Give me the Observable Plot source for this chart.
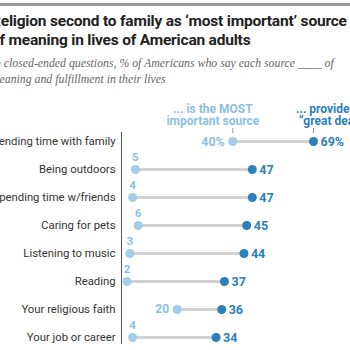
<!DOCTYPE html>
<html>
<head>
<meta charset="utf-8">
<script src="https://cdn.jsdelivr.net/npm/d3@7"></script>
<script src="https://cdn.jsdelivr.net/npm/@observablehq/plot@0.6"></script>
<style>
  html, body { margin: 0; padding: 0; width: 350px; height: 350px; overflow: hidden; background: #fff; }
  #bar { position: absolute; left: 0; top: 3px; width: 350px; height: 3px; background: #9a9a9a; }
  #title { position: absolute; left: -9px; top: 12px; white-space: nowrap; font-family: Roboto, sans-serif; font-weight: bold; font-size: 15.5px; line-height: 19px; color: #222; letter-spacing: -0.2px; }
  #subtitle { position: absolute; left: -9px; top: 56px; white-space: nowrap; font-family: "Liberation Serif", serif; font-style: italic; font-size: 11.8px; line-height: 15.5px; color: #666; }
  #chart { position: absolute; left: -10px; top: 92px; width: 380px; height: 258px; }
  #chart svg { max-width: none !important; }
</style>
</head>
<body>
<div id="bar"></div>
<div id="title">Religion second to family as ‘most important’ source<br>of meaning in lives of American adults</div>
<div id="subtitle">In closed-ended questions, % of Americans who say each source ____ of<br>meaning and fulfillment in their lives</div>
<div id="chart"></div>
<script>
const categories = ["Spending time with family", "Being outdoors", "Spending time w/friends", "Caring for pets", "Listening to music", "Reading", "Your religious faith", "Your job or career"];
const mostImportant = [40, 5, 4, 6, 3, 2, 20, 4];
const greatDeal = [69, 47, 47, 45, 44, 37, 36, 34];
const headerMost = "... is the MOST\nimportant source";
const headerGreat = "... provides a\n“great deal”";

const light = "#a3cde9";
const lightText = "#8cc0e2";
const dark = "#2b80bb";

const data = categories.map((c, i) => ({cat: c, most: mostImportant[i], great: greatDeal[i], i}));
const first = data.filter(d => d.i === 0);
const rest = data.filter(d => d.i !== 0);
const aboveLabels = rest.filter(d => d.most < 10);
const leftLabels = rest.filter(d => d.most >= 10);

const chart = Plot.plot({
  width: 380,
  height: 258,
  marginLeft: 131,
  marginRight: 57,
  marginTop: 47,
  marginBottom: 12,
  style: {fontFamily: "Roboto, sans-serif", fontSize: "11.3px", color: "#333", background: "transparent", maxWidth: "none"},
  x: {domain: [0, 69], axis: null},
  y: {domain: categories, type: "point", padding: 0, axis: "left", tickSize: 0, tickPadding: 6, label: null},
  marks: [
    Plot.ruleX([0], {stroke: "#555", strokeWidth: 1, insetTop: -7, insetBottom: -6}),
    Plot.ruleY(data, {y: "cat", x1: "most", x2: "great", stroke: "#d2d2d2", strokeWidth: 3}),
    Plot.ruleX(first, {x: "most", y1: "cat", y2: "cat", stroke: "#999", strokeWidth: 1, insetTop: -13, insetBottom: 8}),
    Plot.ruleX(first, {x: "great", y1: "cat", y2: "cat", stroke: "#999", strokeWidth: 1, insetTop: -13, insetBottom: 8}),
    Plot.dot(data, {x: "most", y: "cat", r: 4.5, fill: light}),
    Plot.dot(data, {x: "great", y: "cat", r: 4.5, fill: dark}),
    Plot.text(first, {x: "most", y: "cat", text: () => headerMost, dx: -20, dy: -26, fill: lightText, fontWeight: "bold", fontSize: 12, lineHeight: 1}),
    Plot.text(first, {x: "great", y: "cat", text: () => headerGreat, dx: 17, dy: -26, fill: dark, fontWeight: "bold", fontSize: 12, lineHeight: 1}),
    Plot.text(first, {x: "most", y: "cat", text: d => d.most + "%", dx: -8, textAnchor: "end", fill: lightText, fontWeight: "bold", fontSize: 12.5}),
    Plot.text(first, {x: "great", y: "cat", text: d => d.great + "%", dx: 7, textAnchor: "start", fill: dark, fontWeight: "bold", fontSize: 12.5}),
    Plot.text(rest, {x: "great", y: "cat", text: d => String(d.great), dx: 7, textAnchor: "start", fill: dark, fontWeight: "bold", fontSize: 12.5}),
    Plot.text(aboveLabels, {x: "most", y: "cat", text: d => String(d.most), dy: -12, fill: lightText, fontWeight: "bold", fontSize: 11.5}),
    Plot.text(leftLabels, {x: "most", y: "cat", text: d => String(d.most), dx: -8, textAnchor: "end", fill: lightText, fontWeight: "bold", fontSize: 12})
  ]
});
document.getElementById("chart").appendChild(chart);
</script>
</body>
</html>
